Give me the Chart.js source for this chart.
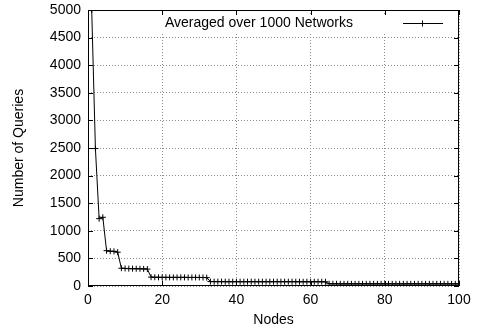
<!DOCTYPE html>
<html>
<head>
<meta charset="utf-8">
<script src="https://cdn.jsdelivr.net/npm/chart.js@4/dist/chart.umd.min.js"></script>
<style>
  html, body { margin: 0; padding: 0; background: #fff; }
  #wrap { width: 480px; height: 329px; }
</style>
</head>
<body>
<div id="wrap"><canvas id="c" width="480" height="329"></canvas></div>
<script>
// Average number of queries per node count (nodes 1..100)
const queries = [
  5000, 2490, 1220, 1245, 640, 630, 628, 612, 322, 318,
  315, 314, 313, 312, 310, 306, 160, 158, 157, 157,
  156, 156, 156, 156, 156, 156, 155, 155, 155, 155,
  154, 152, 80, 79, 79, 79, 78, 78, 78, 78,
  78, 78, 78, 78, 78, 78, 78, 78, 78, 78,
  78, 78, 78, 78, 78, 78, 77, 77, 77, 77,
  77, 77, 77, 76, 40, 40, 40, 39, 39, 39,
  39, 39, 39, 39, 39, 39, 39, 39, 39, 39,
  39, 39, 39, 39, 39, 39, 39, 39, 39, 39,
  39, 39, 39, 39, 39, 39, 39, 39, 39, 38
];
const seriesLabel = 'Averaged over 1000 Networks';
const xTicks = [0, 20, 40, 60, 80, 100];
const yTicks = [0, 500, 1000, 1500, 2000, 2500, 3000, 3500, 4000, 4500, 5000];

const points = queries.map((q, i) => ({ x: i + 1, y: q }));
const FONT = 'Liberation Sans, Arial, Helvetica, sans-serif';

// frame, mirrored inward ticks and the key, drawn the gnuplot way
const framePlugin = {
  id: 'frame',
  afterDatasetsDraw(chart) {
    const { ctx, chartArea: a, scales } = chart;
    ctx.save();
    ctx.setLineDash([]);

    // key
    ctx.fillStyle = '#fff';
    ctx.fillRect(150, 15, 306, 17);
    ctx.fillStyle = '#000';
    ctx.font = '14px ' + FONT;
    ctx.textAlign = 'right';
    ctx.textBaseline = 'middle';
    ctx.fillText(seriesLabel, 353, 23);
    ctx.strokeStyle = '#000';
    ctx.lineWidth = 1;
    ctx.beginPath();
    ctx.moveTo(403, 23.5); ctx.lineTo(443, 23.5);
    ctx.moveTo(422.5, 20.5); ctx.lineTo(422.5, 26.5);
    ctx.stroke();

    // border as solid 1px strips
    const l = Math.round(a.left), t = Math.round(a.top);
    const r = Math.round(a.right), b = Math.round(a.bottom);
    ctx.fillStyle = '#000';
    ctx.fillRect(l, t, r - l, 1);
    ctx.fillRect(l, b - 1, r - l, 1);
    ctx.fillRect(l, t, 1, b - t);
    ctx.fillRect(r - 1, t, 1, b - t);

    // inward ticks on all four sides
    const len = 5;
    ctx.beginPath();
    xTicks.forEach(v => {
      const px = Math.round(scales.x.getPixelForValue(v)) + 0.5;
      ctx.moveTo(px, b); ctx.lineTo(px, b - len);
      ctx.moveTo(px, t); ctx.lineTo(px, t + len);
    });
    yTicks.forEach(v => {
      const py = Math.round(scales.y.getPixelForValue(v)) + 0.5;
      ctx.moveTo(l, py); ctx.lineTo(l + len, py);
      ctx.moveTo(r, py); ctx.lineTo(r - len, py);
    });
    ctx.stroke();
    ctx.restore();
  }
};

new Chart(document.getElementById('c'), {
  type: 'line',
  data: {
    datasets: [{
      label: seriesLabel,
      data: points,
      borderColor: '#000',
      backgroundColor: '#000',
      borderWidth: 1,
      pointStyle: 'cross',
      pointRadius: 3,
      pointBorderWidth: 1,
      pointBorderColor: '#000',
      tension: 0,
      fill: false
    }]
  },
  options: {
    responsive: false,
    animation: false,
    layout: { padding: { top: 10, right: 21, left: 0, bottom: 0 } },
    plugins: {
      legend: { display: false },
      tooltip: { enabled: false }
    },
    scales: {
      x: {
        type: 'linear',
        min: 0,
        max: 100,
        afterFit(s) { s.height = 43; s.paddingLeft = 0; s.paddingRight = 0; },
        afterBuildTicks(s) { s.ticks = xTicks.map(v => ({ value: v })); },
        ticks: { color: '#000', padding: 6, maxRotation: 0, font: { family: FONT, size: 14 }, callback: v => String(v) },
        grid: { color: '#8a8a8a', lineWidth: 1, drawTicks: false },
        border: { display: false, dash: [1, 2] },
        title: { display: true, text: 'Nodes', color: '#000', padding: { top: 2, bottom: 0 }, font: { family: FONT, size: 14 } }
      },
      y: {
        type: 'linear',
        min: 0,
        max: 5000,
        afterFit(s) { s.width = 88; s.paddingTop = 0; s.paddingBottom = 0; },
        afterBuildTicks(s) { s.ticks = yTicks.map(v => ({ value: v })); },
        ticks: { color: '#000', padding: 7, font: { family: FONT, size: 14 }, callback: v => String(v) },
        grid: { color: '#8a8a8a', lineWidth: 1, drawTicks: false },
        border: { display: false, dash: [1, 2] },
        title: { display: true, text: 'Number of Queries', color: '#000', padding: { top: 11, bottom: 0 }, font: { family: FONT, size: 14 } }
      }
    }
  },
  plugins: [framePlugin]
});
</script>
</body>
</html>
